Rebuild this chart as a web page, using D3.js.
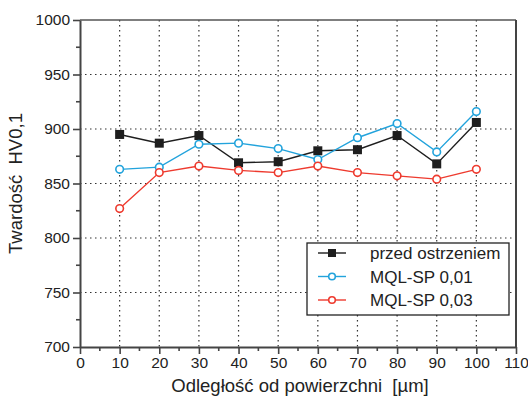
<!DOCTYPE html>
<html>
<head>
<meta charset="utf-8">
<script src="https://cdn.jsdelivr.net/npm/d3@7"></script>
<style>
  body { margin: 0; background: #fff; }
  svg { font-family: Arial, "Liberation Sans", sans-serif; }
  .title { white-space: pre; }
</style>
</head>
<body>
<div id="plot"></div>
<script>
// Data
let distances = [10, 20, 30, 40, 50, 60, 70, 80, 90, 100]
let beforeSharpening = [895, 887, 894, 869, 870, 880, 881, 894, 868, 906]
let mql001 = [863, 865, 886, 887, 882, 872, 892, 905, 879, 916]
let mql003 = [827, 860, 866, 862, 860, 866, 860, 857, 854, 863]
let seriesNames = ['przed ostrzeniem', 'MQL-SP 0,01', 'MQL-SP 0,03']
let xTicks = [0, 10, 20, 30, 40, 50, 60, 70, 80, 90, 100, 110]
let yTicks = [700, 750, 800, 850, 900, 950, 1000]

let series = [
  {name: seriesNames[0], values: beforeSharpening, color: '#1e1e1e', marker: 'square'},
  {name: seriesNames[1], values: mql001, color: '#22a3dc', marker: 'circle'},
  {name: seriesNames[2], values: mql003, color: '#ee3a2e', marker: 'circle'},
]

// Plot constants
let W = 528, H = 396
let margin = {t: 20, r: 12, b: 49, l: 80}
let width = W - margin.l - margin.r
let height = H - margin.t - margin.b

let svg = d3.select('#plot').append('svg')
  .attr('width', W)
  .attr('height', H)

let g = svg.append('g').attr('transform', `translate(${margin.l},${margin.t})`)

let x = d3.scaleLinear().domain([0, 110]).range([0, width])
let y = d3.scaleLinear().domain([700, 1000]).range([height, 0])

// Dotted grid
g.append('g').selectAll('line')
  .data(distances)
  .enter().append('line')
  .attr('x1', d => x(d)).attr('x2', d => x(d))
  .attr('y1', 0).attr('y2', height)
  .style('stroke', '#333').style('stroke-width', 1.2).style('stroke-dasharray', '1.5,3.5')

g.append('g').selectAll('line')
  .data(yTicks.filter(d => d > 700 && d < 1000))
  .enter().append('line')
  .attr('x1', 0).attr('x2', width)
  .attr('y1', d => y(d)).attr('y2', d => y(d))
  .style('stroke', '#333').style('stroke-width', 1.2).style('stroke-dasharray', '1.5,3.5')

// Frame (top and right)
g.append('line').attr('x1', 0).attr('x2', width).attr('y1', 0).attr('y2', 0)
  .style('stroke', '#555').style('stroke-width', 1.5)
g.append('line').attr('x1', width).attr('x2', width).attr('y1', 0).attr('y2', height)
  .style('stroke', '#444').style('stroke-width', 2)

// Axes
let xAxis = d3.axisBottom(x).tickValues(xTicks).tickSize(7).tickPadding(3).tickSizeOuter(0)
  .tickFormat(d3.format('d'))
let yAxis = d3.axisLeft(y).tickValues(yTicks).tickSize(7).tickPadding(3).tickSizeOuter(0)
  .tickFormat(d3.format('d'))

let gx = g.append('g').attr('transform', `translate(0,${height})`).call(xAxis)
let gy = g.append('g').call(yAxis)

// Minor ticks
gx.selectAll('.minor').data(d3.range(5, 110, 10)).enter().append('line')
  .attr('class', 'minor')
  .attr('x1', d => x(d)).attr('x2', d => x(d)).attr('y1', 0).attr('y2', 4)
gy.selectAll('.minor').data(d3.range(725, 1000, 50)).enter().append('line')
  .attr('class', 'minor')
  .attr('y1', d => y(d)).attr('y2', d => y(d)).attr('x1', 0).attr('x2', -4)

for (let ax of [gx, gy]) {
  ax.select('.domain').style('stroke', '#444').style('stroke-width', 2)
  ax.selectAll('line').style('stroke', '#444').style('stroke-width', 1.6)
  ax.selectAll('text').style('font-size', '15.5px').style('fill', '#222')
    .style('font-family', 'Arial, "Liberation Sans", sans-serif')
}

// Axis titles
svg.append('text')
  .attr('class', 'title')
  .attr('transform', `translate(22,${margin.t + height / 2}) rotate(-90)`)
  .attr('text-anchor', 'middle')
  .style('font-size', '18.5px').style('fill', '#222')
  .text('Twardość  HV0,1')

svg.append('text')
  .attr('class', 'title')
  .attr('x', margin.l + x(55) + 2)
  .attr('y', 392)
  .attr('text-anchor', 'middle')
  .style('font-size', '18.5px').style('fill', '#222')
  .text('Odległość od powierzchni  [µm]')

// Lines and markers
let line = d3.line()
  .x((d, i) => x(distances[i]))
  .y(d => y(d))

series.forEach(function(s) {
  g.append('path')
    .datum(s.values)
    .attr('d', line)
    .style('fill', 'none')
    .style('stroke', s.color)
    .style('stroke-width', 1.4)

  if (s.marker === 'square') {
    g.append('g').selectAll('rect')
      .data(s.values)
      .enter().append('rect')
      .attr('x', (d, i) => x(distances[i]) - 4.5)
      .attr('y', d => y(d) - 4.5)
      .attr('width', 9).attr('height', 9)
      .style('fill', s.color)
  } else {
    g.append('g').selectAll('circle')
      .data(s.values)
      .enter().append('circle')
      .attr('cx', (d, i) => x(distances[i]))
      .attr('cy', d => y(d))
      .attr('r', 3.8)
      .style('fill', '#fff')
      .style('stroke', s.color)
      .style('stroke-width', 1.6)
  }
})

// Legend
let legend = svg.append('g').attr('transform', 'translate(307,243)')
legend.append('rect')
  .attr('width', 202).attr('height', 72)
  .style('fill', '#fff').style('stroke', '#222').style('stroke-width', 1.3)

series.forEach(function(s, i) {
  let ly = 10 + i * 23.5
  let row = legend.append('g').attr('transform', `translate(0,${ly})`)
  row.append('line').attr('x1', 11).attr('x2', 39).attr('y1', 0).attr('y2', 0)
    .style('stroke', s.color).style('stroke-width', 1.4)
  if (s.marker === 'square') {
    row.append('rect').attr('x', 21).attr('y', -4).attr('width', 8).attr('height', 8)
      .style('fill', s.color)
  } else {
    row.append('circle').attr('cx', 25).attr('cy', 0).attr('r', 3.3)
      .style('fill', '#fff').style('stroke', s.color).style('stroke-width', 1.6)
  }
  row.append('text').attr('x', 63).attr('y', 6)
    .style('font-size', '17px').style('fill', '#222')
    .text(s.name)
})
</script>
</body>
</html>
